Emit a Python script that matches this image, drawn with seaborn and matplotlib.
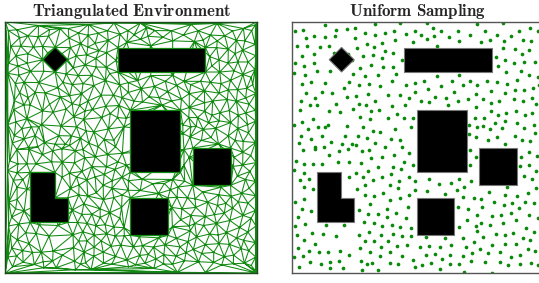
import numpy as np
import pandas as pd
import matplotlib
matplotlib.use('Agg')
import matplotlib.pyplot as plt
import matplotlib.tri as mtri
from matplotlib.patches import Polygon
import seaborn as sns

# sample points (environment units 0..100), read region by region
samples_upper_left = [
    (13.2, 98.5), (1.2, 96.5), (4.6, 96.8), (17.6, 96.9), (21.8, 97.2), (5.7, 93.6), (9.0, 94.4),
    (13.1, 94.0), (17.2, 94.3), (2.2, 90.2), (6.1, 90.3), (11.2, 89.9), (14.8, 90.2), (9.0, 87.3),
    (4.2, 86.4), (16.8, 87.6), (22.5, 87.3), (1.3, 83.5), (5.0, 82.4), (8.7, 83.5), (10.0, 80.3),
    (15.3, 80.3), (1.0, 79.5), (5.4, 78.7), (24.2, 79.2), (4.0, 75.4), (7.5, 75.9), (13.3, 75.8),
    (22.9, 75.9), (20.9, 73.8), (5.7, 71.7), (11.9, 71.9), (15.9, 71.7), (9.1, 69.8), (3.6, 68.6),
    (21.9, 70.1), (7.4, 66.9), (9.9, 66.9), (17.6, 67.2), (3.4, 65.1), (14.8, 64.5), (19.0, 64.0),
    (24.2, 65.3), (8.6, 61.4), (4.2, 60.2), (1.0, 59.1), (14.4, 59.0), (6.6, 57.5), (10.4, 58.2),
    (13.3, 58.2), (22.1, 58.5), (3.6, 54.7), (7.5, 53.4), (11.9, 54.7), (15.6, 52.0), (19.8, 51.3),
    (23.9, 51.3), (2.8, 51.8), (9.2, 50.0), (12.9, 50.3), (21.3, 54.7),
]
samples_upper_midleft = [
    (33.1, 98.9), (43.2, 99.5), (25.0, 97.3), (29.1, 95.5), (32.9, 94.6), (36.9, 95.4), (40.6, 96.4),
    (45.6, 95.0), (25.3, 93.5), (40.9, 92.6), (48.3, 91.8), (29.9, 91.3), (35.7, 91.4), (25.9, 89.7),
    (32.8, 89.9), (37.2, 88.5), (40.2, 87.7), (28.2, 86.4), (32.3, 86.8), (36.0, 85.4), (44.0, 84.6),
    (24.1, 84.8), (31.7, 82.8), (36.1, 82.0), (40.1, 81.9), (27.0, 81.7), (41.5, 79.4), (29.0, 78.6),
    (34.4, 78.7), (39.8, 76.6), (26.6, 75.0), (30.9, 75.4), (35.2, 74.6), (45.5, 74.9), (48.9, 75.8),
    (30.3, 71.4), (25.6, 70.6), (38.1, 70.8), (43.0, 70.8), (46.4, 69.8), (48.9, 71.9), (32.9, 68.5),
    (26.6, 67.4), (29.5, 66.7), (39.9, 66.4), (45.2, 66.7), (31.7, 64.5), (34.6, 65.1), (41.7, 63.5),
    (27.2, 62.2), (31.2, 61.2), (38.3, 61.9), (44.6, 61.9), (48.1, 61.6), (28.3, 58.2), (32.1, 56.6),
    (35.2, 56.2), (41.0, 57.4), (47.2, 58.2), (26.3, 54.6), (29.9, 53.7), (39.3, 53.2), (43.1, 52.9),
    (25.5, 50.8), (33.2, 51.7), (36.9, 50.3), (43.8, 50.3),
]
samples_upper_midright = [
    (53.6, 99.5), (56.1, 97.6), (48.8, 96.5), (59.4, 96.5), (66.0, 96.4), (51.2, 94.8), (56.7, 94.2),
    (62.6, 93.8), (70.8, 94.7), (53.8, 93.0), (66.5, 92.4), (57.8, 90.4), (57.8, 78.6), (66.5, 78.7),
    (52.6, 76.6), (63.6, 76.3), (71.0, 76.3), (59.2, 74.3), (68.1, 74.7), (73.7, 75.0), (54.0, 73.4),
    (64.5, 72.2), (73.1, 71.4), (57.1, 70.2), (61.1, 69.8), (51.2, 68.4), (54.5, 68.1), (66.1, 68.5),
    (70.0, 69.3), (62.2, 66.8), (73.1, 65.9), (72.9, 61.9), (70.5, 59.0), (73.7, 58.2), (70.6, 55.5),
    (73.4, 54.2),
]
samples_upper_right = [
    (84.1, 99.3), (73.8, 98.9), (76.6, 96.4), (94.6, 97.3), (90.3, 96.3), (81.5, 94.7), (87.2, 94.4),
    (97.9, 96.5), (78.6, 92.7), (84.2, 92.4), (91.8, 92.6), (95.2, 92.4), (75.1, 92.1), (84.0, 89.7),
    (88.6, 89.1), (94.3, 88.7), (91.3, 87.3), (81.2, 86.1), (84.9, 84.8), (88.5, 83.5), (92.4, 84.0),
    (96.5, 84.0), (82.1, 82.4), (85.2, 80.0), (90.9, 80.5), (94.4, 79.0), (97.7, 77.9), (89.5, 76.7),
    (77.6, 76.3), (81.5, 75.9), (85.7, 75.4), (98.3, 75.0), (79.1, 72.5), (88.6, 72.9), (92.3, 73.0),
    (95.9, 73.5), (84.9, 71.6), (76.0, 69.4), (82.4, 68.5), (88.2, 69.1), (91.8, 68.4), (95.5, 69.7),
    (79.2, 67.8), (96.9, 67.2), (89.0, 64.7), (79.2, 64.4), (85.3, 63.8), (82.1, 62.8), (92.6, 62.8),
    (95.5, 63.7), (76.4, 61.9), (84.9, 60.6), (80.8, 59.8), (89.5, 59.9), (96.3, 59.1), (75.8, 58.4),
    (78.6, 57.2), (83.6, 57.6), (92.4, 57.6), (96.6, 55.8), (88.6, 54.6), (81.7, 54.0), (77.9, 52.8),
    (91.3, 52.8), (94.5, 52.4), (84.7, 51.4),
]
samples_lower_left = [
    (4.6, 49.2), (9.4, 49.3), (14.8, 47.2), (18.8, 48.7), (22.5, 49.5), (1.7, 44.7), (5.0, 43.5),
    (8.6, 43.5), (12.2, 43.5), (18.4, 44.3), (22.6, 44.2), (0.9, 40.9), (4.7, 39.9), (3.2, 37.0),
    (7.0, 37.3), (22.6, 38.2), (4.7, 34.2), (8.6, 33.4), (4.7, 29.4), (1.4, 28.3), (4.1, 25.6),
    (7.5, 24.8), (2.5, 22.3), (13.5, 19.3), (20.9, 19.0), (5.4, 19.6), (1.3, 18.8), (2.0, 15.2),
    (4.8, 13.3), (8.1, 16.1), (12.3, 15.8), (17.4, 14.8), (9.4, 11.8), (2.6, 10.0), (6.9, 9.0),
    (10.8, 8.3), (14.3, 8.4), (19.0, 8.8), (22.7, 7.2), (1.0, 6.5), (4.5, 6.9), (7.1, 4.4),
    (11.5, 3.5), (15.1, 4.6), (18.8, 4.9), (2.9, 2.6), (15.3, 2.2), (20.2, 2.2),
]
samples_lower_midleft = [
    (30.8, 49.2), (27.8, 48.7), (40.6, 47.2), (46.5, 47.7), (31.6, 45.9), (35.8, 46.3), (27.5, 43.9),
    (44.7, 44.3), (34.4, 42.4), (40.2, 42.3), (48.1, 43.0), (25.5, 39.8), (30.5, 40.5), (43.6, 41.3),
    (28.3, 38.3), (35.7, 38.3), (39.3, 39.3), (32.4, 37.1), (42.5, 36.8), (46.4, 38.2), (48.9, 36.8),
    (29.3, 35.1), (38.9, 35.0), (25.9, 33.7), (42.4, 33.8), (48.9, 33.0), (36.2, 32.0), (29.2, 31.1),
    (32.8, 30.7), (39.0, 29.3), (46.4, 31.1), (43.1, 30.1), (31.2, 27.6), (46.2, 26.2), (26.6, 25.1),
    (37.7, 25.6), (30.4, 23.4), (34.4, 23.5), (37.7, 22.2), (41.5, 24.1), (45.5, 21.9), (28.7, 20.2),
    (32.5, 19.8), (36.0, 18.9), (39.7, 19.3), (43.1, 18.4), (47.2, 18.1), (30.8, 16.5), (26.9, 15.3),
    (35.3, 15.2), (40.3, 15.7), (43.7, 14.8), (47.3, 14.9), (29.1, 12.8), (32.5, 12.9), (38.1, 12.9),
    (27.1, 10.2), (35.3, 10.4), (42.0, 10.7), (45.9, 11.2), (31.3, 8.4), (38.9, 8.4), (43.8, 6.7),
    (48.3, 5.3), (35.2, 6.8), (27.5, 4.8), (31.9, 4.2), (39.1, 4.0), (42.3, 3.6), (29.9, 3.6),
    (27.9, 1.4), (34.1, 1.5), (49.0, 2.6),
]
samples_lower_midright = [
    (71.0, 49.2), (73.1, 46.1), (71.0, 43.0), (54.4, 37.4), (58.6, 35.6), (63.2, 35.7), (66.5, 37.3),
    (71.3, 36.6), (68.6, 34.3), (53.6, 32.9), (65.6, 33.2), (60.8, 31.7), (68.2, 30.2), (72.4, 30.0),
    (66.1, 26.2), (70.2, 25.6), (73.7, 23.0), (69.7, 21.3), (66.4, 18.5), (73.1, 18.8), (53.3, 14.5),
    (61.0, 14.1), (68.0, 13.9), (72.6, 12.6), (50.9, 10.5), (54.5, 11.0), (58.9, 10.4), (63.4, 11.3),
    (69.4, 10.5), (53.4, 7.1), (56.8, 7.5), (63.0, 7.4), (67.9, 6.8), (71.8, 8.2), (59.9, 5.7),
    (71.2, 5.0), (51.8, 3.4), (55.5, 4.0), (62.9, 3.7), (66.4, 3.6), (59.0, 1.9), (68.4, 0.4),
]
samples_lower_right = [
    (94.4, 48.1), (97.5, 46.8), (90.9, 46.1), (94.3, 43.0), (90.6, 42.5), (97.2, 40.5), (92.2, 38.6),
    (95.4, 37.3), (85.7, 34.2), (96.9, 33.8), (78.4, 32.3), (93.9, 31.8), (84.8, 31.2), (89.7, 30.6),
    (75.4, 29.6), (92.6, 28.4), (80.4, 28.3), (87.6, 27.8), (96.4, 27.9), (84.3, 27.0), (75.7, 26.2),
    (90.3, 25.9), (87.0, 23.9), (79.5, 22.6), (83.1, 23.3), (94.4, 23.0), (97.7, 21.9), (89.2, 21.0),
    (75.3, 19.8), (78.8, 19.0), (83.9, 19.8), (93.1, 18.2), (73.5, 16.9), (87.9, 16.2), (81.2, 15.6),
    (84.6, 15.2), (96.4, 16.4), (76.0, 14.4), (91.9, 14.0), (94.7, 13.1), (79.5, 11.4), (84.9, 11.8),
    (89.0, 11.5), (74.7, 9.5), (93.7, 9.8), (96.7, 9.0), (82.8, 8.3), (78.0, 7.9), (90.7, 7.2),
    (87.0, 6.6), (95.0, 4.0), (76.8, 4.6), (82.8, 4.3), (90.6, 3.8), (86.0, 3.3), (97.7, 3.1),
    (79.5, 0.3),
]
# points near the right edge, cut off in the sampling panel, seen as mesh vertices on the left
samples_right_edge = [
    (99.4, 98.8), (99.3, 91.0), (99.5, 86.5), (99.2, 81.0), (99.6, 71.5), (99.3, 64.8), (99.5, 60.5),
    (99.4, 52.0), (99.6, 44.0), (99.3, 36.5), (99.5, 30.8), (99.4, 25.0), (99.6, 18.8), (99.3, 12.2),
    (99.5, 6.5), (99.4, 1.0),
]

# obstacles
diamond = [(19.8, 89.8), (24.8, 84.9), (19.8, 80.0), (14.9, 84.9)]
rect_top = [(44.8, 80.0), (79.5, 80.0), (79.5, 89.7), (44.8, 89.7)]
rect_mid = [(49.7, 40.1), (69.6, 40.1), (69.6, 64.8), (49.7, 64.8)]
rect_right = [(74.5, 35.0), (89.5, 35.0), (89.5, 49.8), (74.5, 49.8)]
rect_bottom = [(49.7, 15.1), (64.6, 15.1), (64.6, 30.0), (49.7, 30.0)]
l_shape = [(9.9, 20.2), (24.8, 20.2), (24.8, 30.0), (19.7, 30.0), (19.7, 40.1), (9.9, 40.1)]
obstacles = [diamond, rect_top, rect_mid, rect_right, rect_bottom, l_shape]

frame_corners = [(0, 0), (100, 0), (100, 100), (0, 100)]

samples = (samples_upper_left + samples_upper_midleft + samples_upper_midright + samples_upper_right
           + samples_lower_left + samples_lower_midleft + samples_lower_midright + samples_lower_right
           + samples_right_edge)
df = pd.DataFrame(samples, columns=['x', 'y'])

sns.set_style('white')
plt.rcParams['mathtext.fontset'] = 'cm'

fig = plt.figure(figsize=(5.39, 2.83), dpi=100)
ax1 = fig.add_axes([0.0098, 0.0343, 0.467, 0.889])
ax2 = fig.add_axes([0.5412, 0.0343, 0.467, 0.889])

# left: triangulated environment
mesh = samples + frame_corners + [p for obs in obstacles for p in obs]
mx = np.array([p[0] for p in mesh])
my = np.array([p[1] for p in mesh])
tri = mtri.Triangulation(mx, my)
ax1.triplot(tri, color='#128a12', lw=0.75, zorder=1)
for obs in obstacles:
    ax1.add_patch(Polygon(obs, closed=True, fc='black', ec='#128a12', lw=0.9, zorder=3))

# right: uniform sampling
sns.scatterplot(data=df, x='x', y='y', ax=ax2, color='#0a8a0a', s=7, linewidth=0, legend=False, zorder=2)
for obs in obstacles:
    ax2.add_patch(Polygon(obs, closed=True, fc='black', ec='#777777', lw=0.8, zorder=3))

for ax, edge in [(ax1, '#1f4a1f'), (ax2, '#555555')]:
    ax.set_xlim(0, 100)
    ax.set_ylim(0, 100)
    ax.set_xticks([])
    ax.set_yticks([])
    ax.set_xlabel('')
    ax.set_ylabel('')
    for sp in ax.spines.values():
        sp.set_visible(True)
        sp.set_color(edge)
        sp.set_linewidth(1.0)

ax1.set_title(r'$\mathbf{Triangulated\ Environment}$', fontsize=12.2, pad=4)
ax2.set_title(r'$\mathbf{Uniform\ Sampling}$', fontsize=12.2, pad=4)

fig.savefig('out.png', dpi=100)
